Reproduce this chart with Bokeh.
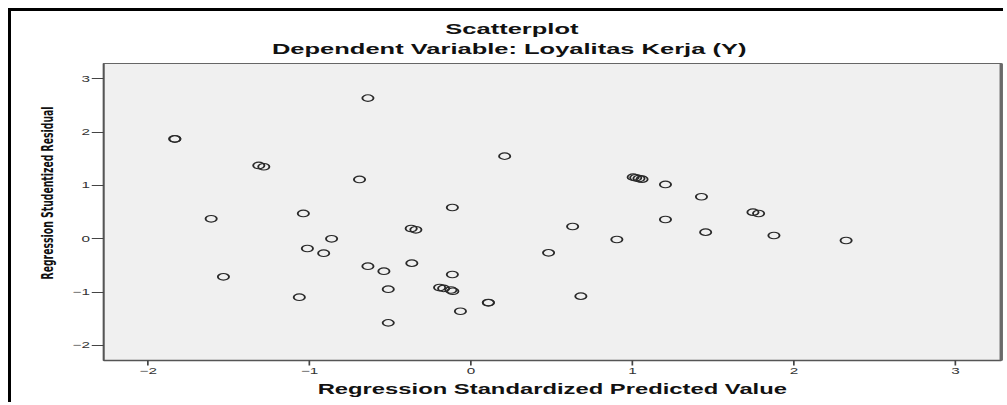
from bokeh.plotting import figure
from bokeh.layouts import column
from bokeh.models import Title, LinearAxis, FixedTicker, Range1d
from bokeh.embed import file_html
from bokeh.resources import INLINE

# Regression Standardized Predicted Value (x) and Regression Studentized Residual (y)
pred = [-0.639, -1.835, -1.835, -1.315, -1.284, -0.691, -1.610, -1.039, -0.371, -0.342,
        -0.864, -1.014, -0.913, -0.367, -0.639, -0.540, -1.534, -0.513, -1.064, -0.513,
        0.208, -0.116, 1.004, 1.020, 1.040, 1.059, 1.204, 1.204, 0.629, 0.903,
        0.480, -0.116, -0.195, -0.170, -0.125, -0.113, 0.107, 0.107, -0.066, 0.680,
        1.427, 1.746, 1.781, 1.453, 1.876, 2.323]
resid = [2.638, 1.876, 1.870, 1.375, 1.351, 1.113, 0.375, 0.475, 0.193, 0.169,
         0.000, -0.182, -0.270, -0.457, -0.514, -0.608, -0.713, -0.945, -1.095, -1.576,
         1.550, 0.587, 1.156, 1.145, 1.130, 1.118, 1.019, 0.362, 0.231, -0.013,
         -0.263, -0.670, -0.914, -0.930, -0.960, -0.983, -1.195, -1.200, -1.358, -1.076,
         0.788, 0.499, 0.475, 0.124, 0.062, -0.032]

x_ticks = [-2, -1, 0, 1, 2, 3]
y_ticks = [-2, -1, 0, 1, 2, 3]

title_text = "Scatterplot"
subtitle_text = "Dependent Variable: Loyalitas Kerja (Y)"
x_label = "Regression Standardized Predicted Value"
y_label = "Regression Studentized Residual"

STRETCH = 1.7  # the reference image is horizontally stretched

p = figure(width=344, height=389, output_backend="svg", toolbar_location=None,
           x_range=Range1d(-2.276, 3.284), y_range=Range1d(-2.282, 3.287),
           min_border_left=54, min_border_right=2, min_border_top=52, min_border_bottom=40,
           background_fill_color="#f0f0f0", border_fill_color="white",
           outline_line_color="#666666", outline_line_width=1)
p.styles = {"transform": f"scaleX({STRETCH})", "transform-origin": "0 0"}

p.scatter(pred, resid, marker="circle", size=6.6, fill_color=None,
          line_color="#2a2a2a", line_width=1.1)

p.grid.visible = False
p.xaxis.ticker = FixedTicker(ticks=x_ticks)
p.yaxis.ticker = FixedTicker(ticks=y_ticks)
for ax in (p.xaxis[0], p.yaxis[0]):
    ax.major_tick_in = 0
    ax.minor_tick_in = 0
    ax.minor_tick_out = 0
    ax.major_tick_line_color = "#444444"
    ax.axis_line_color = "#555555"
    ax.major_label_text_font = "Liberation Sans"
    ax.major_label_text_font_size = "9px"
    ax.major_label_text_color = "#333333"
p.xaxis.major_tick_out = 5
p.xaxis.major_label_standoff = 3
p.xaxis.axis_line_width = 1.5
p.yaxis.major_tick_out = 7
p.yaxis.major_label_standoff = 1

p.xaxis.axis_label = x_label
p.xaxis.axis_label_text_font = "Liberation Sans"
p.xaxis.axis_label_text_font_size = "14px"
p.xaxis.axis_label_text_font_style = "bold"
p.xaxis.axis_label_text_color = "#111111"
p.xaxis.axis_label_standoff = 4

right = LinearAxis(ticker=FixedTicker(ticks=[]), major_tick_out=0, major_tick_in=0,
                   minor_tick_out=0, minor_tick_in=0, axis_line_width=2,
                   axis_line_color="#6a6a6a")
p.add_layout(right, "right")

p.add_layout(Title(text=subtitle_text, align="left", offset=99, standoff=12,
                   text_font="Liberation Sans", text_font_size="15px",
                   text_font_style="bold", text_color="#111111"), "above")
p.add_layout(Title(text=title_text, align="left", offset=201, standoff=-10,
                   text_font="Liberation Sans", text_font_size="15px",
                   text_font_style="bold", text_color="#111111"), "above")
p.add_layout(Title(text=y_label, align="left", offset=81, standoff=13,
                   text_font="DejaVu Sans", text_font_size="9.3px",
                   text_font_style="bold", text_color="#111111"), "left")

page = column(p, width=995, height=394,
              styles={"margin": "8px 0 0 8px", "border-top": "3px solid black",
                      "border-left": "3px solid black", "background": "white"})

open("out.html", "w").write(file_html(page, INLINE))
